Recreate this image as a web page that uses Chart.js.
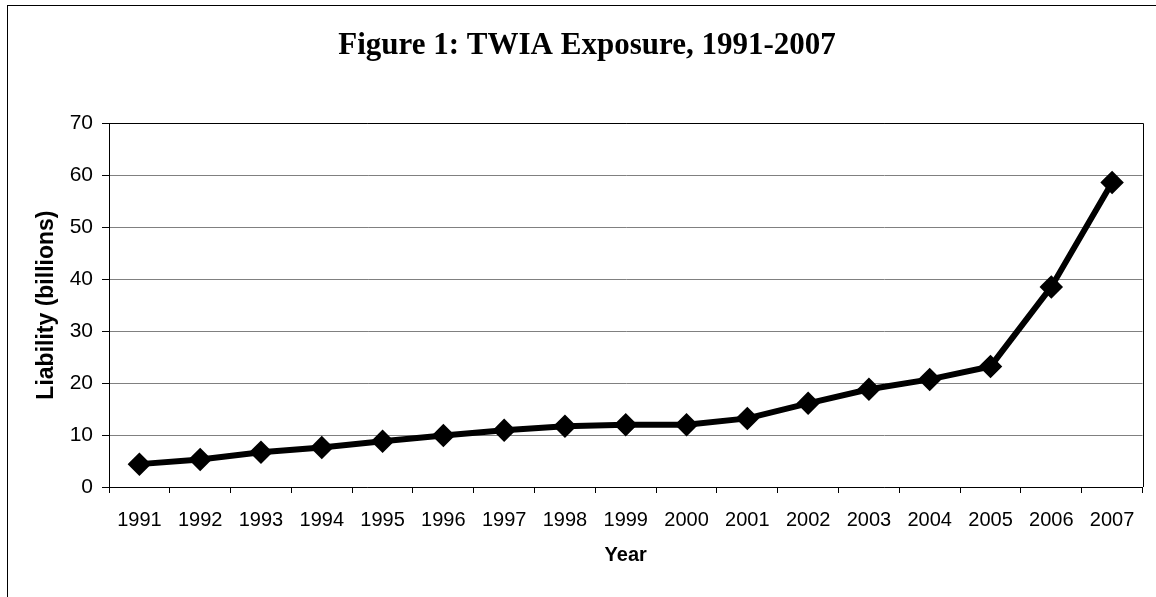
<!DOCTYPE html>
<html>
<head>
<meta charset="utf-8">
<script src="https://cdn.jsdelivr.net/npm/chart.js@4"></script>
<style>
  html, body { margin: 0; padding: 0; background: #fff; }
  #wrap { width: 1156px; height: 597px; position: relative; }
</style>
</head>
<body>
<div id="wrap"><canvas id="twiaChart" width="1156" height="597"></canvas></div>
<script>
const years = ["1991", "1992", "1993", "1994", "1995", "1996", "1997", "1998", "1999",
               "2000", "2001", "2002", "2003", "2004", "2005", "2006", "2007"];
const liability = [4.4, 5.3, 6.7, 7.6, 8.8, 9.9, 10.9, 11.7, 12.0,
                   12.0, 13.2, 16.1, 18.8, 20.7, 23.2, 38.5, 58.6];
const yTicks = [0, 10, 20, 30, 40, 50, 60, 70];

// outer frame of the figure + black top/right edge of the plot area
const framePlugin = {
    id: "frame",
    beforeDraw(chart) {
        const c = chart.ctx;
        c.save();
        c.fillStyle = "#fff";
        c.fillRect(0, 0, chart.width, chart.height);
        c.strokeStyle = "#000";
        c.lineWidth = 1;
        c.strokeRect(7.5, 5.5, 1160, 600);
        c.restore();
    },
    beforeDatasetsDraw(chart) {
        const a = chart.chartArea;
        const c = chart.ctx;
        c.save();
        c.strokeStyle = "#000";
        c.lineWidth = 1;
        c.beginPath();
        c.moveTo(Math.round(a.left), Math.round(a.top) + 0.5);
        c.lineTo(Math.round(a.right) + 0.5, Math.round(a.top) + 0.5);
        c.lineTo(Math.round(a.right) + 0.5, a.bottom);
        c.stroke();
        c.restore();
    }
};

const sans = "'Liberation Sans', Arial, sans-serif";

const ctx = document.getElementById("twiaChart").getContext("2d");
new Chart(ctx, {
    type: "line",
    data: {
        labels: years,
        datasets: [{
            label: "Liability",
            data: liability,
            borderColor: "#000",
            backgroundColor: "#000",
            borderWidth: 6,
            pointStyle: "rectRot",
            pointRadius: 7.5,
            pointBackgroundColor: "#000",
            pointBorderColor: "#000",
            tension: 0,
            fill: false
        }]
    },
    options: {
        responsive: false,
        animation: false,
        layout: { padding: { top: 0, right: 12, left: 30, bottom: 0 } },
        plugins: {
            legend: { display: false },
            tooltip: { enabled: false },
            title: {
                display: true,
                text: "Figure 1: TWIA Exposure, 1991-2007",
                color: "#000",
                font: { family: "'Liberation Serif', 'Times New Roman', serif", size: 31, weight: "bold", lineHeight: 1.2 },
                padding: { top: 27, bottom: 59 }
            }
        },
        scales: {
            x: {
                offset: true,
                afterFit(axis) { axis.height = 110; },
                grid: {
                    offset: true,
                    drawOnChartArea: false,
                    drawTicks: true,
                    tickLength: 6,
                    color: "#000"
                },
                border: { color: "#000", width: 1 },
                ticks: {
                    color: "#000",
                    padding: 15,
                    maxRotation: 0,
                    autoSkip: false,
                    font: { family: sans, size: 20 }
                },
                title: {
                    display: true,
                    text: "Year",
                    color: "#000",
                    padding: { top: 0, bottom: 30 },
                    font: { family: sans, size: 20, weight: "bold" }
                }
            },
            y: {
                min: 0,
                max: 70,
                afterFit(axis) { axis.width = 79; },
                afterBuildTicks(axis) { axis.ticks = yTicks.map(v => ({ value: v })); },
                grid: {
                    color: "#808080",
                    tickColor: "#000",
                    tickLength: 7
                },
                border: { color: "#000", width: 1 },
                ticks: {
                    color: "#000",
                    padding: 9,
                    font: { family: sans, size: 21 }
                },
                title: {
                    display: true,
                    text: "Liability (billions)",
                    color: "#000",
                    padding: { top: 3, bottom: 0 },
                    font: { family: sans, size: 23, weight: "bold" }
                }
            }
        }
    },
    plugins: [framePlugin]
});
</script>
</body>
</html>
